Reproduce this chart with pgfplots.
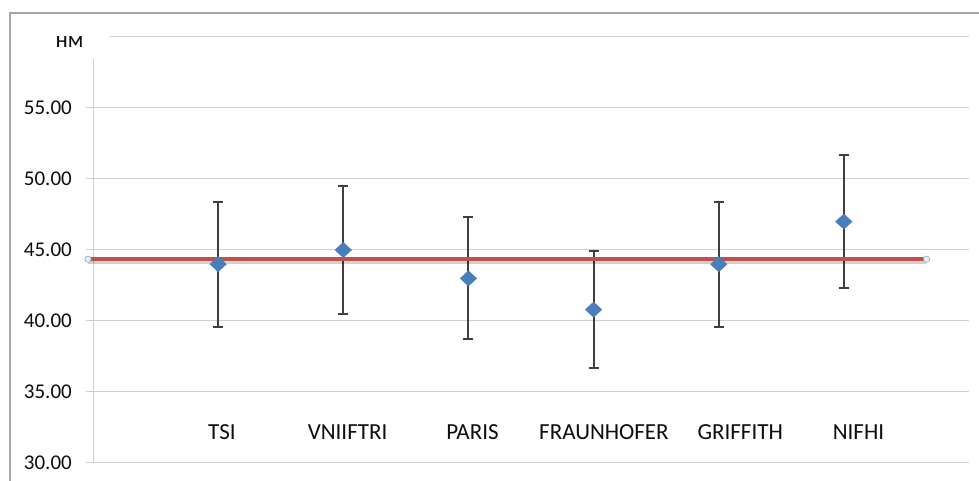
\documentclass[border=0pt]{standalone}
\usepackage{fontspec}
\setmainfont{Carlito}
\usepackage{pgfplots}
\pgfplotsset{compat=1.18}
\definecolor{gridc}{HTML}{CFCFCF}
\definecolor{framec}{HTML}{A6A6A6}
\definecolor{ptblue}{HTML}{4A7EBB}
\definecolor{errc}{HTML}{3F3F3F}
\definecolor{redl}{HTML}{C0504D}
\definecolor{handle}{HTML}{DDF1F6}
\definecolor{handled}{HTML}{8FA9B8}
\pgfplotstableread{
x y e
1 44.0 4.4
2 45.0 4.5
3 43.0 4.3
4 40.8 4.1
5 44.0 4.4
6 47.0 4.7
}\pts
\begin{document}
\begin{tikzpicture}[x=1pt,y=1pt]
\path[use as bounding box] (0,0) rectangle (979,481);
\fill[white] (0,0) rectangle (979,481);
\draw[framec, line width=1.3pt] (10,-2) -- (10,468) -- (985,468);
\begin{axis}[
  at={(93pt,18pt)}, anchor=south west, scale only axis,
  width=876pt, height=426pt,
  xmin=0, xmax=7, ymin=30, ymax=60,
  clip=false,
  axis lines*=left,
  axis line style={gridc, line width=1pt},
  ytick={30,35,...,60},
  yticklabels={30.00,35.00,40.00,45.00,50.00,55.00,},
  xtick={1.03,2.034,3.032,4.083,5.172,6.117},
  xticklabels={TSI,VNIIFTRI,PARIS,FRAUNHOFER,GRIFFITH,NIFHI},
  ymajorgrids,
  grid style={gridc, line width=1pt},
  tick align=outside,
  major tick length=7pt,
  ytick style={gridc, line width=1pt},
  xtick style={draw=none},
  yticklabel style={font=\fontsize{21}{25}\selectfont, text=black!95, anchor=east, inner sep=0pt, xshift=-14pt},
  xticklabel style={font=\fontsize{23}{27}\selectfont, text=black!95, anchor=center, inner sep=0pt, yshift=37.5pt},
]
\addplot[only marks, mark=diamond*, mark size=7.6pt, color=ptblue,
  mark options={xscale=1.45, draw=ptblue, fill=ptblue},
  error bars/.cd, y dir=both, y explicit,
  error bar style={errc, line width=2pt},
  error mark options={errc, line width=2pt, mark size=5pt, rotate=90}]
  table[x=x, y=y, y error=e] {\pts};
\addplot[black, opacity=0.18, line width=4pt, yshift=-3pt, forget plot] coordinates {(-0.04,44.35) (6.66,44.35)};
\addplot[redl, line width=3.8pt, mark=*, mark size=3.2pt,
  mark options={fill=handle, draw=handled, line width=0.6pt}] coordinates {(-0.04,44.35) (6.66,44.35)};
\end{axis}
\fill[white] (46,422) rectangle (110,458);
\node[font=\fontsize{23}{27}\selectfont, text=black!95] at (69.5,439) {нм};
\end{tikzpicture}
\end{document}
